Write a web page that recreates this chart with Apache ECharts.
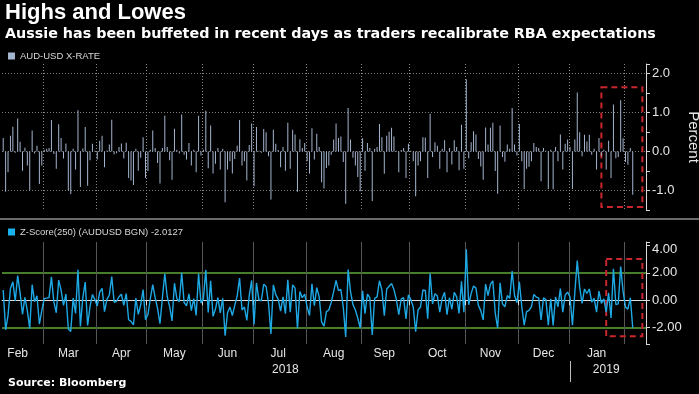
<!DOCTYPE html>
<html><head><meta charset="utf-8">
<script src="https://cdn.jsdelivr.net/npm/echarts@6/dist/echarts.min.js"></script>
<style>html,body{margin:0;padding:0;background:#000;}#c{width:699px;height:394px;}</style>
</head><body><div id="c"></div>
<script>
// ---- data ----
const startDate = '2018-02-06';      // first trading day shown
const categoryCount = 267;           // weekdays on the axis (data + right margin)
const barName = 'AUD-USD X-RATE';
const lineName = 'Z-Score(250) (AUDUSD BGN) -2.0127';
const audUsdChange = [
0.35,-1.03,-0.53,0.41,0.64,-0.03,0.85,0.25,-0.49,0.10,
-0.36,-0.99,0.54,-0.05,0.15,-0.83,-0.36,0.05,0.07,0.09,
0.81,-0.06,-0.44,0.70,0.35,-0.18,0.21,-1.00,-1.09,0.07,
-0.46,1.06,-0.91,0.08,0.63,-0.88,-0.22,0.20,0.02,-0.20,
0.28,0.41,-0.40,0.03,0.18,0.82,-0.07,-0.04,0.12,0.21,
-0.18,0.23,-0.68,-0.74,-0.86,0.07,-0.49,-0.16,0.37,-0.68,
-0.50,0.05,0.54,0.09,-0.29,-0.82,0.09,
0.92,0.12,-0.22,-0.72,0.59,0.05,-0.05,0.95,-0.08,-0.20,
0.22,-0.36,0.05,-0.53,0.92,-0.10,0.05,1.05,-0.43,0.67,
-0.56,-0.31,0.09,-0.46,0.07,-1.30,-0.46,-0.25,-0.56,-0.19,
0.15,0.81,-0.36,-0.25,-0.74,0.17,0.72,-0.89,0.63,0.02,
-0.03,0.58,0.50,-0.12,-1.23,0.56,0.20,0.04,-0.40,0.12,
-0.49,0.74,-0.44,0.56,0.44,-1.03,0.32,0.09,0.22,-0.25,
-0.56,0.60,-0.20,0.46,0.12,
-0.79,-0.95,-0.42,-0.36,-0.08,0.31,0.72,0.35,0.39,-0.27,
-1.34,1.12,0.31,-0.16,-0.36,-0.65,-1.02,0.34,-0.49,0.22,
0.09,-1.27,0.07,0.12,0.71,0.37,-0.57,0.41,0.51,0.61,
0.39,0.02,-0.53,0.04,0.09,-0.68,0.20,0.02,-0.25,-1.15,
-0.36,-0.25,0.37,0.36,-0.68,0.97,-0.14,0.24,0.15,-0.44,
0.07,0.29,-0.53,0.09,-0.33,0.29,0.12,-0.48,0.69,-0.44,
1.86,-0.17,0.24,0.52,0.44,-0.19,-0.38,-0.72,
0.62,0.18,0.61,0.74,-0.50,-1.08,0.67,-0.14,-0.26,0.18,
0.07,1.12,0.18,-0.10,0.71,-0.25,-0.96,-0.44,-0.39,-0.25,
0.22,0.12,0.09,-0.76,0.09,0.02,-0.96,0.05,-0.97,0.12,
-0.25,0.44,-0.46,0.20,0.31,0.12,-0.96,0.31,1.52,0.50,
-0.12,0.43,0.26,0.43,-0.08,0.07,-0.46,0.35,-0.12,0.05,
-0.46,0.28,-0.68,1.21,-0.17,-0.14,1.32,0.34,-0.27,-0.34,
0.09,-1.11
];
const zScore = [
0.74,-2.16,-1.11,0.86,1.34,-0.06,1.79,0.53,-1.03,0.21,
-0.76,-2.08,1.13,-0.11,0.32,-1.74,-0.76,0.11,0.15,0.19,
1.70,-0.13,-0.92,1.47,0.74,-0.38,0.44,-2.10,-2.29,0.15,
-0.97,2.23,-1.91,0.17,1.32,-1.85,-0.46,0.42,0.04,-0.42,
0.59,0.86,-0.84,0.06,0.38,1.72,-0.15,-0.08,0.25,0.44,
-0.38,0.48,-1.43,-1.55,-1.81,0.15,-1.03,-0.34,0.78,-1.43,
-1.05,0.11,1.13,0.19,-0.61,-1.72,0.19,
1.93,0.25,-0.46,-1.51,1.24,0.11,-0.11,2.00,-0.17,-0.42,
0.46,-0.76,0.11,-1.11,1.93,-0.21,0.11,2.21,-0.90,1.41,
-1.18,-0.65,0.19,-0.92,0.14,-2.60,-0.92,-0.50,-1.12,-0.38,
0.30,1.62,-0.72,-0.50,-1.48,0.34,1.44,-1.78,1.26,0.04,
-0.06,1.16,1.00,-0.24,-2.46,1.12,0.40,0.08,-0.80,0.24,
-0.98,1.48,-0.88,1.12,0.88,-2.06,0.64,0.18,0.44,-0.50,
-1.12,1.20,-0.40,0.92,0.24,
-1.58,-1.90,-0.84,-0.72,-0.16,0.62,1.44,0.70,0.78,-0.54,
-2.68,2.24,0.62,-0.32,-0.72,-1.30,-2.04,0.68,-0.98,0.44,
0.18,-2.54,0.14,0.24,1.42,0.74,-1.14,0.82,1.02,1.22,
0.78,0.04,-1.06,0.08,0.18,-1.36,0.40,0.04,-0.50,-2.30,
-0.72,-0.50,0.74,0.72,-1.36,1.94,-0.28,0.48,0.30,-0.88,
0.14,0.58,-1.06,0.18,-0.66,0.58,0.24,-0.96,1.38,-0.88,
3.72,-0.34,0.48,1.04,0.88,-0.38,-0.76,-1.44,
1.18,0.34,1.16,1.41,-0.95,-2.05,1.27,-0.27,-0.49,0.34,
0.13,2.13,0.34,-0.19,1.35,-0.48,-1.82,-0.84,-0.74,-0.48,
0.42,0.23,0.17,-1.44,0.17,0.04,-1.82,0.10,-1.84,0.23,
-0.48,0.84,-0.87,0.38,0.59,0.23,-1.82,0.59,2.89,0.95,
-0.23,0.82,0.49,0.82,-0.15,0.13,-0.87,0.67,-0.23,0.10,
-0.87,0.53,-1.29,2.30,-0.32,-0.27,2.45,0.65,-0.51,-0.65,
0.17,-2.01
];
// highlighted boxes: [fromDate, toDate, upper, lower]
const boxTop = ['2019-01-18', '2019-02-12', 1.65, -1.42];
const boxBottom = ['2019-01-22', '2019-02-12', 3.0, -2.64];
const monthNames = ['Jan','Feb','Mar','Apr','May','Jun','Jul','Aug','Sep','Oct','Nov','Dec'];

// ---- axis helpers ----
function weekdays(fromStr, n) {
  const out = []; const d = new Date(fromStr + 'T00:00:00Z');
  while (out.length < n) {
    const w = d.getUTCDay();
    if (w !== 0 && w !== 6) out.push(d.toISOString().slice(0, 10));
    d.setUTCDate(d.getUTCDate() + 1);
  }
  return out;
}
const categories = weekdays(startDate, categoryCount);
const monthStart = new Set();
categories.forEach((c, i) => { if (i > 0 && c.slice(0, 7) !== categories[i - 1].slice(0, 7)) monthStart.add(i); });
const monthMid = new Set();
const months = [...new Set(categories.map(c => c.slice(0, 7)))];
months.forEach(m => {
  const y = +m.slice(0, 4), mo = +m.slice(5, 7);
  const all = []; const d = new Date(Date.UTC(y, mo - 1, 1));
  while (d.getUTCMonth() === mo - 1) { const w = d.getUTCDay(); if (w && w !== 6) all.push(d.toISOString().slice(0, 10)); d.setUTCDate(d.getUTCDate() + 1); }
  const firstIn = categories.indexOf(all.find(x => categories.includes(x)));
  const before = all.filter(x => x < categories[0]).length;
  const s = firstIn - before;
  const mid = Math.floor(s + all.length / 2 - 0.5);
  if (mid >= 0 && mid < categories.length) monthMid.add(mid);
});
const yearStartIdx = categories.findIndex(c => c.slice(0, 4) !== categories[0].slice(0, 4));
const yearMid = new Set([Math.floor(yearStartIdx / 2 - 0.5), Math.floor((yearStartIdx + categories.length) / 2 - 0.5)]);

const FONT = 'Liberation Sans';
const TXT = '#e6e6e6';
const GREEN = '#5ea83a';
const NONE = 'rgba(0,0,0,0)';
const boxStyle = { color: NONE, borderColor: '#c9262d', borderWidth: 2, borderType: [6, 4] };
const chart = echarts.init(document.getElementById('c'), null, { renderer: 'canvas' });
chart.setOption({
  backgroundColor: '#000',
  animation: false,
  textStyle: { fontFamily: FONT },
  title: [
    { text: 'Highs and Lowes', subtext: 'Aussie has been buffeted in recent days as traders recalibrate RBA expectations',
      left: 5, top: 2, padding: 0, itemGap: 3,
      textStyle: { color: '#fff', fontSize: 22, fontWeight: 'bold', fontFamily: FONT },
      subtextStyle: { color: '#fff', fontSize: 14.3, fontWeight: 'bold', fontFamily: 'DejaVu Sans' } },
    { text: 'Source: Bloomberg', left: 8, top: 378, padding: 0,
      textStyle: { color: '#fff', fontSize: 11, fontWeight: 'bold', fontFamily: 'DejaVu Sans' } }
  ],
  legend: [
    { data: [barName], left: 8, top: 51, padding: 0, icon: 'rect', itemWidth: 7, itemHeight: 7, itemGap: 3,
      textStyle: { color: '#d8d8d8', fontSize: 9.5, fontFamily: FONT } },
    { data: [lineName], left: 8, top: 227, padding: 0, icon: 'rect', itemWidth: 7, itemHeight: 7, itemGap: 3,
      textStyle: { color: '#d8d8d8', fontSize: 9.5, fontFamily: FONT } }
  ],
  graphic: [
    { type: 'line', silent: true, shape: { x1: 0, y1: 219, x2: 699, y2: 219 }, style: { stroke: '#6a6a6a', lineWidth: 2 } }
  ],
  grid: [
    { left: 2, right: 53, top: 64, height: 146, outerBoundsMode: 'none', containLabel: false },
    { left: 2, right: 53, top: 242, height: 102, outerBoundsMode: 'none', containLabel: false }
  ],
  xAxis: [
    { gridIndex: 0, type: 'category', data: categories, boundaryGap: true,
      axisLine: { show: false }, axisTick: { show: false }, axisLabel: { show: false },
      splitLine: { show: true, interval: (i) => monthStart.has(i), lineStyle: { color: '#8a8a8a', type: [1, 2], width: 1 } } },
    { gridIndex: 1, type: 'category', data: categories, boundaryGap: true,
      axisLine: { show: true, lineStyle: { color: '#dcdcdc', width: 1 } },
      axisTick: { show: true, interval: (i) => monthStart.has(i), length: 5, lineStyle: { color: '#dcdcdc' } },
      axisLabel: { show: true, interval: (i) => monthMid.has(i), hideOverlap: false, margin: 4,
        formatter: (v) => monthNames[+v.slice(5, 7) - 1], color: TXT, fontSize: 12, fontFamily: FONT },
      splitLine: { show: true, interval: (i) => monthStart.has(i), lineStyle: { color: '#555555', width: 1 } } },
    { gridIndex: 1, type: 'category', data: categories, boundaryGap: true, position: 'bottom', offset: 17,
      axisLine: { show: false },
      axisTick: { show: true, alignWithLabel: true, interval: (i) => i === yearStartIdx, length: 21, lineStyle: { color: '#bdbdbd' } },
      axisLabel: { show: true, interval: (i) => yearMid.has(i), hideOverlap: false, margin: 3,
        formatter: (v) => v.slice(0, 4), color: TXT, fontSize: 12, fontFamily: FONT },
      splitLine: { show: false } }
  ],
  yAxis: [
    { gridIndex: 0, type: 'value', position: 'right', min: -1.5, max: 2.25, interval: 0.5,
      axisLine: { show: true, lineStyle: { color: '#d8d8d8' } },
      axisTick: { show: true, length: 4, lineStyle: { color: '#d8d8d8' } },
      axisLabel: { color: TXT, fontSize: 13, margin: 6, fontFamily: FONT,
        formatter: (v) => Number.isInteger(v) ? v.toFixed(1) : '' },
      splitLine: { show: true, lineStyle: { color: [NONE, '#7c7c7c'], type: [1, 2], width: 1 } },
      name: 'Percent', nameLocation: 'middle', nameRotate: -90, nameGap: 27,
      nameTextStyle: { color: TXT, fontSize: 15, fontFamily: FONT } },
    { gridIndex: 1, type: 'value', position: 'right', min: -3.2, max: 4.25, splitNumber: 4,
      axisLine: { show: true, lineStyle: { color: '#d8d8d8' } },
      axisTick: { show: true, length: 4, lineStyle: { color: '#d8d8d8' } },
      axisLabel: { color: TXT, fontSize: 13, margin: 6, fontFamily: FONT, showMinLabel: true, showMaxLabel: true,
        formatter: (v) => (Math.abs(v % 2) < 1e-9) ? (v === 4 ? '{dn|' + v.toFixed(2) + '}' : v.toFixed(2)) : '',
        rich: { dn: { padding: [8, 0, 0, 0], color: TXT, fontSize: 13, fontFamily: FONT } } },
      // ticks: -3.2, -2, 0, 2, 4, 4.25 -> green only at +/-2
      splitLine: { show: true, lineStyle: { color: [NONE, GREEN, NONE, GREEN, NONE, NONE], width: 1.6, type: 'solid' } } }
  ],
  series: [
    { name: barName, type: 'bar', xAxisIndex: 0, yAxisIndex: 0, data: audUsdChange, barWidth: 1,
      itemStyle: { color: '#a4b5cf' } },
    { name: 'highlight-top', type: 'line', xAxisIndex: 0, yAxisIndex: 0, data: [], silent: true,
      markArea: { silent: true, itemStyle: boxStyle,
        data: [[{ xAxis: boxTop[0], yAxis: boxTop[2] }, { xAxis: boxTop[1], yAxis: boxTop[3] }]] } },
    { name: lineName, type: 'line', xAxisIndex: 1, yAxisIndex: 1, data: zScore, showSymbol: false, symbol: 'none', z: 3,
      lineStyle: { color: '#1ea8e4', width: 1.4 }, itemStyle: { color: '#19b4f0' },
      markArea: { silent: true, itemStyle: boxStyle,
        data: [[{ xAxis: boxBottom[0], yAxis: boxBottom[2] }, { xAxis: boxBottom[1], yAxis: boxBottom[3] }]] } }
  ]
});
</script></body></html>
